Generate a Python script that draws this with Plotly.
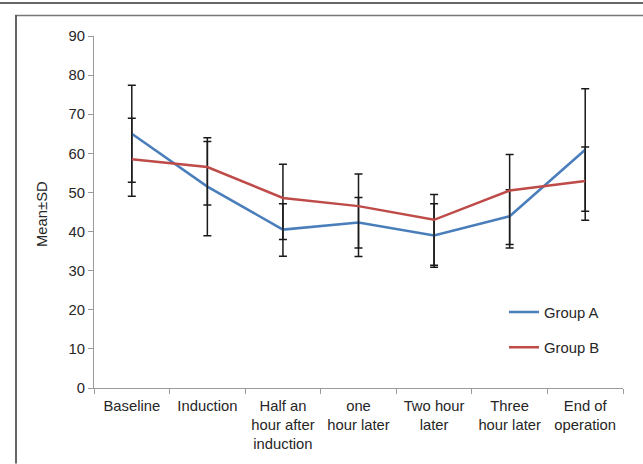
import plotly.graph_objects as go

categories = ["Baseline", "Induction", "Half an<br>hour after<br>induction",
              "one<br>hour later", "Two hour<br>later", "Three<br>hour later",
              "End of<br>operation"]
group_a = [65.0, 51.5, 40.5, 42.3, 39.0, 43.9, 60.9]
a_upper = [77.4, 64.0, 47.1, 48.7, 47.1, 50.7, 76.5]
a_lower = [52.6, 38.9, 33.7, 35.8, 30.9, 36.7, 45.2]
group_b = [58.5, 56.5, 48.6, 46.5, 43.0, 50.5, 52.9]
b_upper = [69.0, 63.0, 57.2, 54.7, 49.5, 59.7, 61.6]
b_lower = [49.0, 46.8, 38.0, 33.6, 31.4, 35.8, 42.9]
y_ticks = [0, 10, 20, 30, 40, 50, 60, 70, 80, 90]

FONT = "Liberation Sans, Arial, sans-serif"
TXT = "#262626"
FS = 14.8

# plot area geometry (pixels)
X0, X1, Y0, Y1 = 94, 623, 35.6, 388.4
W, H = 643, 464

def px(x):
    return (x - X0) / (X1 - X0)

def py(y):
    return (Y1 - y) / (Y1 - Y0)

def err(mean, up, lo):
    return dict(type="data", symmetric=False,
                array=[u - m for u, m in zip(up, mean)],
                arrayminus=[m - l for m, l in zip(mean, lo)],
                color="#1a1a1a", thickness=1.5, width=4)

fig = go.Figure()
fig.add_trace(go.Scatter(x=categories, y=group_a, mode="lines", name="Group A",
                         legendgroup="A",
                         line=dict(color="#4a7ebb", width=2.5),
                         error_y=err(group_a, a_upper, a_lower)))
fig.add_trace(go.Scatter(x=categories, y=group_b, mode="lines", name="Group B",
                         legendgroup="B",
                         line=dict(color="#be4b48", width=2.5),
                         error_y=err(group_b, b_upper, b_lower)))

fig.update_layout(
    width=W, height=H,
    margin=dict(l=X0, r=W - X1, t=Y0, b=H - Y1, autoexpand=False),
    paper_bgcolor="white", plot_bgcolor="white",
    font=dict(family=FONT, size=FS, color=TXT),
    showlegend=True,
    legend=dict(x=px(504), y=py(296), xanchor="left", yanchor="top",
                bgcolor="rgba(0,0,0,0)", font=dict(size=FS, color=TXT),
                tracegroupgap=13, traceorder="grouped"),
    xaxis=dict(type="category", range=[-0.5, len(categories) - 0.5],
               showgrid=False, showline=True,
               linecolor="#9a9a9a", linewidth=1, ticks="outside",
               tickson="boundaries", ticklen=5, tickcolor="#9a9a9a",
               ticklabelstandoff=4,
               tickfont=dict(size=FS, color=TXT), zeroline=False,
               automargin=False),
    yaxis=dict(range=[0, 90], tickvals=y_ticks, showgrid=False, showline=True,
               linecolor="#9a9a9a", linewidth=1, ticks="outside", ticklen=5,
               tickcolor="#9a9a9a", tickfont=dict(size=FS, color=TXT),
               zeroline=False, automargin=False),
    annotations=[dict(text="Mean±SD", xref="paper", yref="paper",
                      x=px(42), y=py(214), xanchor="center", yanchor="middle",
                      textangle=-90, showarrow=False,
                      font=dict(size=FS, color=TXT))],
    shapes=[
        dict(type="line", xref="paper", yref="paper", x0=px(0), x1=px(W),
             y0=py(2.5), y1=py(2.5), line=dict(color="#666666", width=2)),
        dict(type="line", xref="paper", yref="paper", x0=px(15), x1=px(W),
             y0=py(15), y1=py(15), line=dict(color="#777777", width=1.5)),
        dict(type="line", xref="paper", yref="paper", x0=px(16), x1=px(16),
             y0=py(15), y1=py(H), line=dict(color="#333333", width=1.5)),
    ],
)

fig.write_html("out.html",
               config={"displayModeBar": False},
               post_script="document.body.style.margin='0';")
